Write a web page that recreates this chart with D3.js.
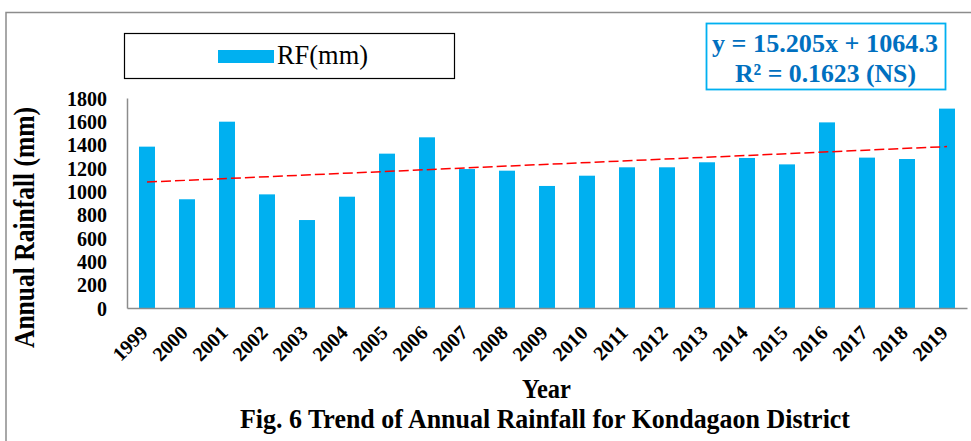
<!DOCTYPE html>
<html>
<head>
<meta charset="utf-8">
<script src="https://cdn.jsdelivr.net/npm/d3@7"></script>
<style>
  body { margin: 0; background: #fff; }
  svg text { font-family: "Liberation Serif", "Times New Roman", serif; }
</style>
</head>
<body>
<div id="chart"></div>
<script>
// Data
const years = ["1999", "2000", "2001", "2002", "2003", "2004", "2005", "2006", "2007", "2008",
  "2009", "2010", "2011", "2012", "2013", "2014", "2015", "2016", "2017", "2018", "2019"];
const rainfall = [1383, 932, 1597, 974, 754, 954, 1323, 1463, 1191, 1177,
  1046, 1134, 1206, 1206, 1249, 1286, 1231, 1591, 1289, 1277, 1709];
const yTicks = [0, 200, 400, 600, 800, 1000, 1200, 1400, 1600, 1800];
const trendSlope = 15.205;
const trendIntercept = 1064.3;
const equationLines = ["y = 15.205x + 1064.3", "R² = 0.1623 (NS)"];

// Constants for SVG dimensions
const width = 971;
const height = 441;
const plot = { left: 127, right: 967, top: 98, bottom: 308 };

const svg = d3
  .select("#chart")
  .append("svg")
  .attr("width", width)
  .attr("height", height);

// Outer frame of the figure
svg
  .append("rect")
  .attr("x", 6)
  .attr("y", 12.5)
  .attr("width", 980)
  .attr("height", 460)
  .attr("fill", "none")
  .attr("stroke", "#8c8c8c")
  .attr("stroke-width", 1.5);

// Scales
const xScale = d3
  .scaleBand()
  .domain(years)
  .range([plot.left, plot.right])
  .paddingInner(0.6)
  .paddingOuter(0.3);

const yScale = d3
  .scaleLinear()
  .domain([0, 1800])
  .range([plot.bottom, plot.top]);

// Bars
svg
  .selectAll(".bar")
  .data(years)
  .enter()
  .append("rect")
  .attr("class", "bar")
  .attr("x", (d) => xScale(d))
  .attr("y", (d, i) => yScale(rainfall[i]))
  .attr("width", xScale.bandwidth())
  .attr("height", (d, i) => yScale(0) - yScale(rainfall[i]))
  .attr("fill", "#00b0f0");

// Y axis (line + labels only)
const yAxis = svg
  .append("g")
  .attr("transform", `translate(${plot.left}, 0)`)
  .call(d3.axisLeft(yScale).tickValues(yTicks).tickSize(0).tickPadding(20).tickFormat(d3.format("d")));
yAxis.select(".domain").attr("stroke", "#8c8c8c").attr("stroke-width", 1.5);
yAxis
  .selectAll("text")
  .style("font-family", "Liberation Serif, serif")
  .style("font-size", "20px")
  .style("font-weight", "bold")
  .attr("fill", "#000")
  .attr("dy", "0.35em");

// X axis (line + rotated labels)
const xAxis = svg
  .append("g")
  .attr("transform", `translate(0, ${plot.bottom})`)
  .call(d3.axisBottom(xScale).tickSize(0).tickSizeOuter(0));
xAxis.select(".domain").attr("stroke", "#8c8c8c").attr("stroke-width", 1.5);
xAxis
  .selectAll("text")
  .style("font-family", "Liberation Serif, serif")
  .style("font-size", "20px")
  .style("font-weight", "bold")
  .attr("fill", "#000")
  .attr("text-anchor", "end")
  .attr("dy", null)
  .attr("y", 0)
  .attr("transform", "translate(2, 26) rotate(-45)");

// Linear trend line
const line = d3
  .line()
  .x((d) => xScale(d) + xScale.bandwidth() / 2)
  .y((d) => yScale(trendSlope * (years.indexOf(d) + 1) + trendIntercept));

svg
  .append("path")
  .datum([years[0], years[years.length - 1]])
  .attr("fill", "none")
  .attr("stroke", "#ff0000")
  .attr("stroke-width", 1.5)
  .attr("stroke-dasharray", "10,4")
  .attr("d", line);

// Legend
svg
  .append("rect")
  .attr("x", 124.5)
  .attr("y", 33.5)
  .attr("width", 330)
  .attr("height", 45)
  .attr("fill", "#fff")
  .attr("stroke", "#000")
  .attr("stroke-width", 1.2);
svg
  .append("rect")
  .attr("x", 218)
  .attr("y", 50)
  .attr("width", 56)
  .attr("height", 13)
  .attr("fill", "#00b0f0");
svg
  .append("text")
  .attr("x", 277)
  .attr("y", 64)
  .attr("textLength", 91)
  .attr("lengthAdjust", "spacingAndGlyphs")
  .style("font-size", "28px")
  .attr("fill", "#000")
  .text("RF(mm)");

// Trend equation box
svg
  .append("rect")
  .attr("x", 706.5)
  .attr("y", 23.5)
  .attr("width", 239)
  .attr("height", 66)
  .attr("fill", "#fff")
  .attr("stroke", "#00b0f0")
  .attr("stroke-width", 1.8);
svg
  .selectAll(".eq")
  .data(equationLines)
  .enter()
  .append("text")
  .attr("class", "eq")
  .attr("x", (d, i) => (i === 0 ? 712 : 735))
  .attr("y", (d, i) => 52 + i * 30)
  .attr("textLength", (d, i) => (i === 0 ? 226 : 181))
  .attr("lengthAdjust", "spacingAndGlyphs")
  .style("font-size", "26px")
  .style("font-weight", "bold")
  .attr("fill", "#0070c0")
  .text((d) => d);

// Axis titles and caption
svg
  .append("text")
  .attr("transform", "translate(34, 348) rotate(-90)")
  .attr("textLength", 241)
  .attr("lengthAdjust", "spacingAndGlyphs")
  .style("font-size", "30px")
  .style("font-weight", "bold")
  .attr("fill", "#000")
  .text("Annual Rainfall (mm)");

svg
  .append("text")
  .attr("x", 522)
  .attr("y", 398)
  .attr("textLength", 49)
  .attr("lengthAdjust", "spacingAndGlyphs")
  .style("font-size", "28px")
  .style("font-weight", "bold")
  .attr("fill", "#000")
  .text("Year");

svg
  .append("text")
  .attr("x", 240)
  .attr("y", 428)
  .attr("textLength", 610)
  .attr("lengthAdjust", "spacingAndGlyphs")
  .style("font-size", "28px")
  .style("font-weight", "bold")
  .attr("fill", "#000")
  .text("Fig. 6 Trend of Annual Rainfall for Kondagaon District");
</script>
</body>
</html>
